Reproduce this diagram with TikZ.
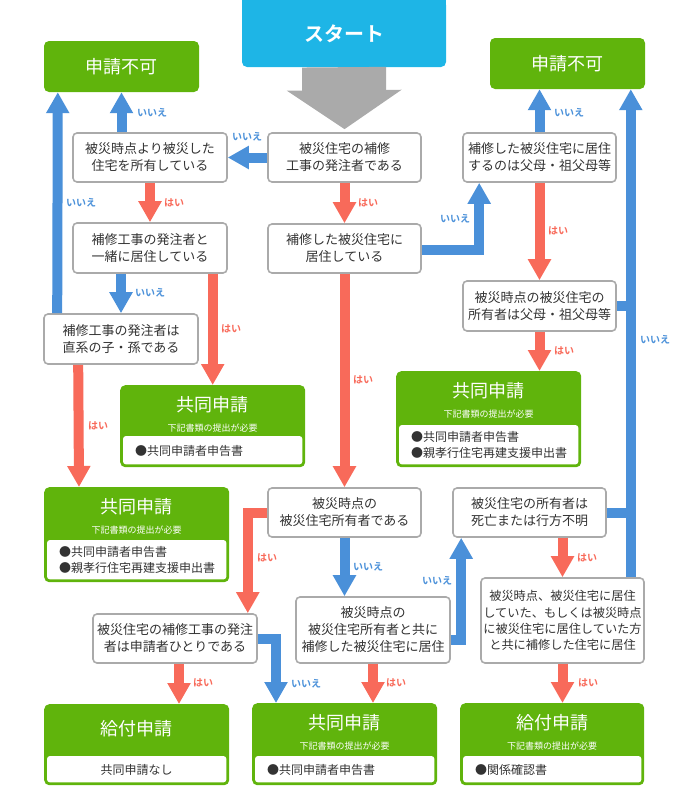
\documentclass[tikz,border=0pt]{standalone}
\usepackage{fontspec}
\setmainfont{Noto Sans CJK JP}[BoldFont={Noto Sans CJK JP Bold}]
\usetikzlibrary{arrows.meta,calc}
\definecolor{cblue}{HTML}{4A90D9}
\definecolor{cred}{HTML}{F86A5A}
\definecolor{cgreen}{HTML}{60B40C}
\definecolor{ccyan}{HTML}{1EB5E6}
\definecolor{cgrayarrow}{HTML}{AAAAAA}
\definecolor{cborder}{HTML}{AAAAAA}
\definecolor{ctext}{HTML}{333333}
\tikzset{
  dec/.style={draw=cborder, line width=1.6pt, fill=white, rounded corners=4pt, align=center,
    text=ctext, font=\fontsize{13}{17}\selectfont, inner sep=0pt, minimum width=153pt, minimum height=49pt},
  gbox/.style={fill=cgreen, rounded corners=5pt, inner sep=0pt},
  ngtitle/.style={text=white, font=\fontsize{18}{22}\selectfont},
  subt/.style={text=white, font=\fontsize{9}{11}\selectfont},
  itemtext/.style={text=ctext, font=\fontsize{12}{16.5}\selectfont, align=left, inner sep=0pt},
  barrow/.style={draw=cblue, line width=10pt, -{Triangle[width=22pt,length=21pt]}},
  rarrow/.style={draw=cred, line width=10pt, -{Triangle[width=22pt,length=21pt]}},
  bline/.style={draw=cblue, line width=10pt},
  lblno/.style={text=cblue, font=\bfseries\fontsize{10}{12}\selectfont, inner sep=0pt},
  lblyes/.style={text=cred, font=\bfseries\fontsize{10}{12}\selectfont, inner sep=0pt},
}
% name, x1, y1, w, h, header height, title, subtitle, items
\newcommand\resbox[9]{%
  \node[gbox, anchor=north west, minimum width=#4pt, minimum height=#5pt] (#1) at (#2,#3) {};
  \fill[white, rounded corners=3pt] ($(#1.south west)+(3pt,3pt)$) rectangle ($(#1.north east)+(-3pt,-#6pt)$);
  \node[ngtitle] (#1t) at ({#2+#4/2},{#3+20}) {#7};
  \node[subt] (#1s) at ({#2+#4/2},{#3+43}) {#8};
  \node[itemtext, anchor=west] (#1i) at ({#2+15},{#3+(#6+#5)/2-1}) {#9};
}
\begin{document}
\begin{tikzpicture}[x=1pt,y=-1pt]
\useasboundingbox (0,0) rectangle (672,787);
% start
\fill[ccyan] (242,-2) rectangle (446,12);
\node[fill=ccyan, rounded corners=5pt, minimum width=204pt, minimum height=67pt, inner sep=0pt,
  text=white, font=\bfseries\fontsize{20}{24}\selectfont] (start) at (344,33.5) {スタート};
% not allowed boxes
\node[gbox, minimum width=155pt, minimum height=51pt, ngtitle] (NG1) at (121.5,66.5) {申請不可};
\node[gbox, minimum width=155pt, minimum height=51pt, ngtitle] (NG2) at (567.5,63.5) {申請不可};
% decision boxes
\node[dec] (b1) at (344.5,157.5) {被災住宅の補修\\工事の発注者である};
\node[dec] (b2) at (344.5,248.5) {補修した被災住宅に\\居住している};
\node[dec, minimum width=154pt] (L1) at (150,157.5) {被災時点より被災した\\住宅を所有している};
\node[dec, minimum width=154pt, minimum height=50pt] (L2) at (150,248) {補修工事の発注者と\\一緒に居住している};
\node[dec, minimum width=154pt, minimum height=50pt] (L3) at (121,339) {補修工事の発注者は\\直系の子・孫である};
\node[dec] (R1) at (539.5,157.5) {補修した被災住宅に居住\\するのは父母・祖父母等};
\node[dec, minimum height=50pt] (R2) at (539.5,306) {被災時点の被災住宅の\\所有者は父母・祖父母等};
\node[dec] (M1) at (344.5,512.5) {被災時点の\\被災住宅所有者である};
\node[dec, minimum width=154pt, minimum height=66pt] (M2) at (373,630) {被災時点の\\被災住宅所有者と共に\\補修した被災住宅に居住};
\node[dec, minimum width=164pt] (L4) at (175,638.5) {被災住宅の補修工事の発注\\者は申請者ひとりである};
\node[dec] (R3) at (529.5,512.5) {被災住宅の所有者は\\死亡または行方不明};
\node[dec, minimum width=163pt, minimum height=85pt, font=\fontsize{12.2}{16.3}\selectfont] (R4) at (562.5,620.5)
  {被災時点、被災住宅に居住\\していた、もしくは被災時点\\に被災住宅に居住していた方\\と共に補修した住宅に居住};
% result boxes
\resbox{J1}{120}{385}{185}{82}{51}{共同申請}{下記書類の提出が必要}{●共同申請者申告書}
\resbox{J2}{44}{487}{185}{95}{53}{共同申請}{下記書類の提出が必要}{●共同申請者申告書\\●親孝行住宅再建支援申出書}
\resbox{J3}{396}{371}{185}{96}{54}{共同申請}{下記書類の提出が必要}{●共同申請者申告書\\●親孝行住宅再建支援申出書}
\resbox{J4}{252}{703}{185}{82}{53}{共同申請}{下記書類の提出が必要}{●共同申請者申告書}
\resbox{K2}{460}{703}{184}{82}{53}{給付申請}{下記書類の提出が必要}{●関係確認書}
\node[gbox, anchor=north west, minimum width=185pt, minimum height=81pt] (K1) at (44,704) {};
\fill[white, rounded corners=3pt] ($(K1.south west)+(3pt,3pt)$) rectangle ($(K1.north east)+(-3pt,-52pt)$);
\node[ngtitle] (K1t) at (136.5,729) {給付申請};
\node[itemtext] (K1i) at (136.5,770) {共同申請なし};
% connectors
\draw[draw=cgrayarrow, line width=84pt, -{Triangle[width=113pt,length=39pt]}] (start.south) -- ([yshift=3pt]b1.north);
\draw[barrow] (b1.west) -- (L1.east);
\draw[rarrow] (b1.south) -- (b2.north);
\draw[barrow] ([yshift=-1pt]b2.east) -| ([xshift=17pt]R1.south west);
\draw[rarrow] (b2.south) -- (M1.north);
\draw[barrow] (L1.north -| NG1.south) -- (NG1.south);
\draw[rarrow] (L1.south) -- (L2.north);
\draw[barrow] (L2.south -| L3.north) -- (L3.north);
\draw[rarrow] (L2.south -| J1.north) -- (J1.north);
\draw[barrow] ([xshift=14pt]L3.north west) -- ([xshift=14pt]NG1.south west);
\draw[rarrow] ([xshift=35pt]L3.south west) -- ([xshift=35pt]J2.north west);
\draw[barrow] (R1.north) -- (R1.north |- NG2.south);
\draw[rarrow] (R1.south) -- (R2.north);
\draw[rarrow] (R2.south) -- (R2.south |- J3.north);
\coordinate (vR) at ([xshift=-14pt]R4.north east);
\draw[barrow] (vR) -- (vR |- NG2.south);
\draw[bline] (R2.east) -- (R2.east -| vR);
\draw[bline] (R3.east) -- (R3.east -| vR);
\draw[rarrow] (M1.west) -| ([xshift=-10pt]L4.north east);
\draw[barrow] (M1.south) -- (M1.south |- M2.north);
\draw[barrow] ([yshift=-10pt]M2.east) -| ([xshift=9pt]R3.south west);
\draw[rarrow] (M2.south) -- (M2.south |- J4.north);
\coordinate (vL4) at ([xshift=4pt]L4.south);
\draw[rarrow] (vL4) -- (vL4 |- K1.north);
\draw[barrow] (L4.east) -| ([xshift=24pt]J4.north west);
\draw[rarrow] (R3.south -| R4.north) -- (R4.north);
\draw[rarrow] (R4.south) -- (R4.south |- K2.north);
% labels
\node[lblno] (t1) at (247,137) {いいえ};
\node[lblyes] (t2) at (368,203) {はい};
\node[lblno] (t3) at (455,219) {いいえ};
\node[lblyes] (t4) at (363,380) {はい};
\node[lblno] (t5) at (152,113) {いいえ};
\node[lblyes] (t6) at (174,203) {はい};
\node[lblno] (t7) at (150,293) {いいえ};
\node[lblyes] (t8) at (231,329) {はい};
\node[lblno] (t9) at (81,203) {いいえ};
\node[lblyes] (t10) at (98,426) {はい};
\node[lblno] (t11) at (569,113) {いいえ};
\node[lblyes] (t12) at (558,231) {はい};
\node[lblyes] (t13) at (564,351) {はい};
\node[lblno] (t14) at (655,340) {いいえ};
\node[lblyes] (t15) at (267,558) {はい};
\node[lblno] (t16) at (368,567) {いいえ};
\node[lblno] (t17) at (437,581) {いいえ};
\node[lblyes] (t18) at (396,683) {はい};
\node[lblyes] (t19) at (203,683) {はい};
\node[lblno] (t20) at (306,684) {いいえ};
\node[lblyes] (t21) at (587,558) {はい};
\node[lblyes] (t22) at (588,683) {はい};
\end{tikzpicture}
\end{document}
